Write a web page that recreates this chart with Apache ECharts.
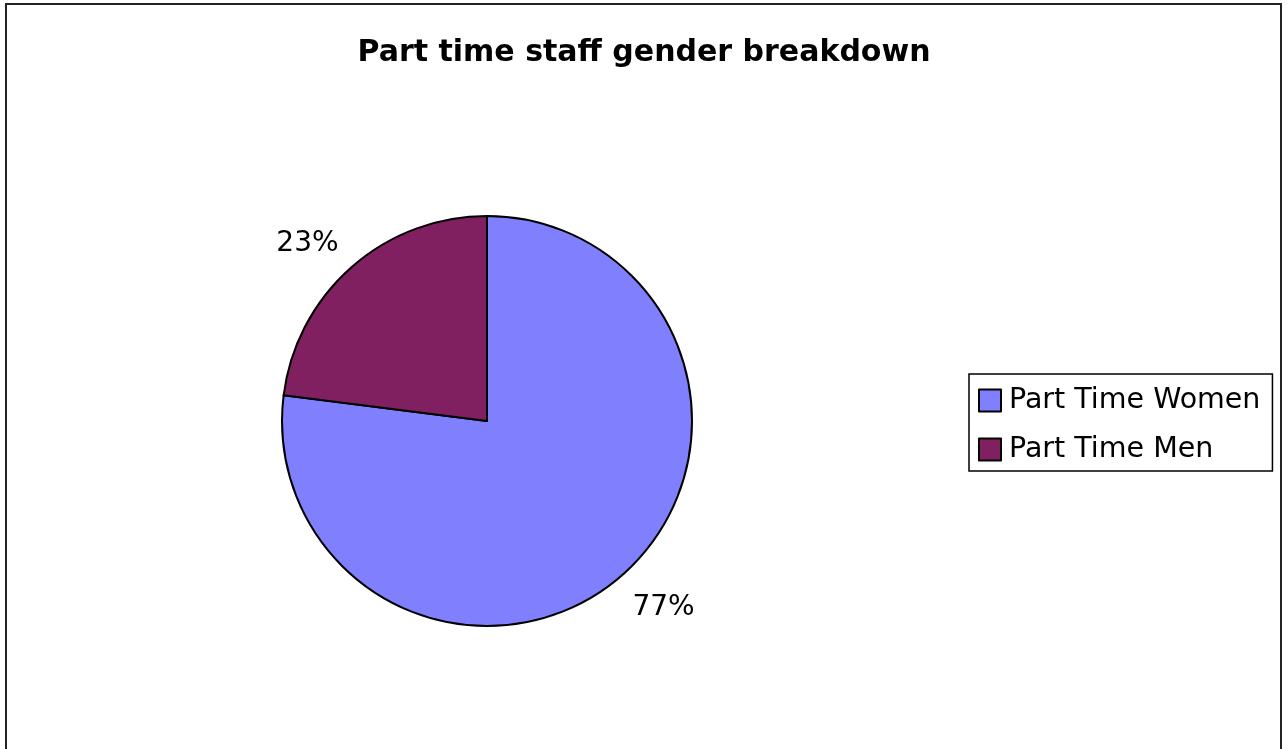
<!DOCTYPE html>
<html lang="en">
<head>
    <meta charset="UTF-8">
    <title>Part time staff gender breakdown</title>
    <script src="https://cdn.jsdelivr.net/npm/echarts@6/dist/echarts.min.js"></script>
    <style>
        html, body { margin: 0; padding: 0; background: #fff; }
    </style>
</head>
<body>
    <div id="ec" style="width:1288px;height:749px"></div>
</body>
<script>
    var categories = ['Part Time Women', 'Part Time Men']
    var values = [77, 23]
    var colors = ['#8080ff', '#802060']

    var ech = document.getElementById("ec")
    var mychart = echarts.init(ech)

    var data = categories.map(function (name, i) {
        return { name: name, value: values[i], itemStyle: { color: colors[i] } }
    })

    // excel puts the % labels a bit closer in than echarts does
    var labelShift = [[-15, 10], [12, -1]]

    var options = {
        animation: false,
        title: {
            text: 'Part time staff gender breakdown',
            left: 'center',
            top: 33,
            textStyle: {
                fontFamily: 'DejaVu Sans',
                fontSize: 30,
                fontWeight: 'bold',
                color: '#000'
            }
        },
        graphic: [{
            type: 'rect',
            shape: { x: 6, y: 4, width: 1275, height: 770 },
            style: { fill: 'none', stroke: '#222', lineWidth: 2 },
            silent: true
        }],
        legend: {
            orient: 'vertical',
            left: 969,
            top: 374,
            padding: [12, 12, 7, 9],
            itemGap: 20,
            itemWidth: 22,
            itemHeight: 22,
            icon: 'rect',
            borderColor: '#000',
            borderWidth: 1.5,
            textStyle: {
                fontFamily: 'DejaVu Sans',
                fontSize: 28.5,
                lineHeight: 28,
                color: '#000',
                padding: [0, 0, 0, 3]
            },
            data: categories
        },
        series: [{
            type: 'pie',
            center: [487, 421],
            radius: 205,
            startAngle: 90,
            clockwise: true,
            itemStyle: { borderColor: '#000', borderWidth: 2 },
            label: {
                show: true,
                position: 'outside',
                formatter: '{d}%',
                fontFamily: 'DejaVu Sans',
                fontSize: 28,
                color: '#000'
            },
            labelLine: { show: false, length: 30, length2: 0 },
            labelLayout: function (p) {
                return { dx: labelShift[p.dataIndex][0], dy: labelShift[p.dataIndex][1] }
            },
            emphasis: { disabled: true },
            data: data
        }]
    }

    mychart.setOption(options)
</script>
</html>
